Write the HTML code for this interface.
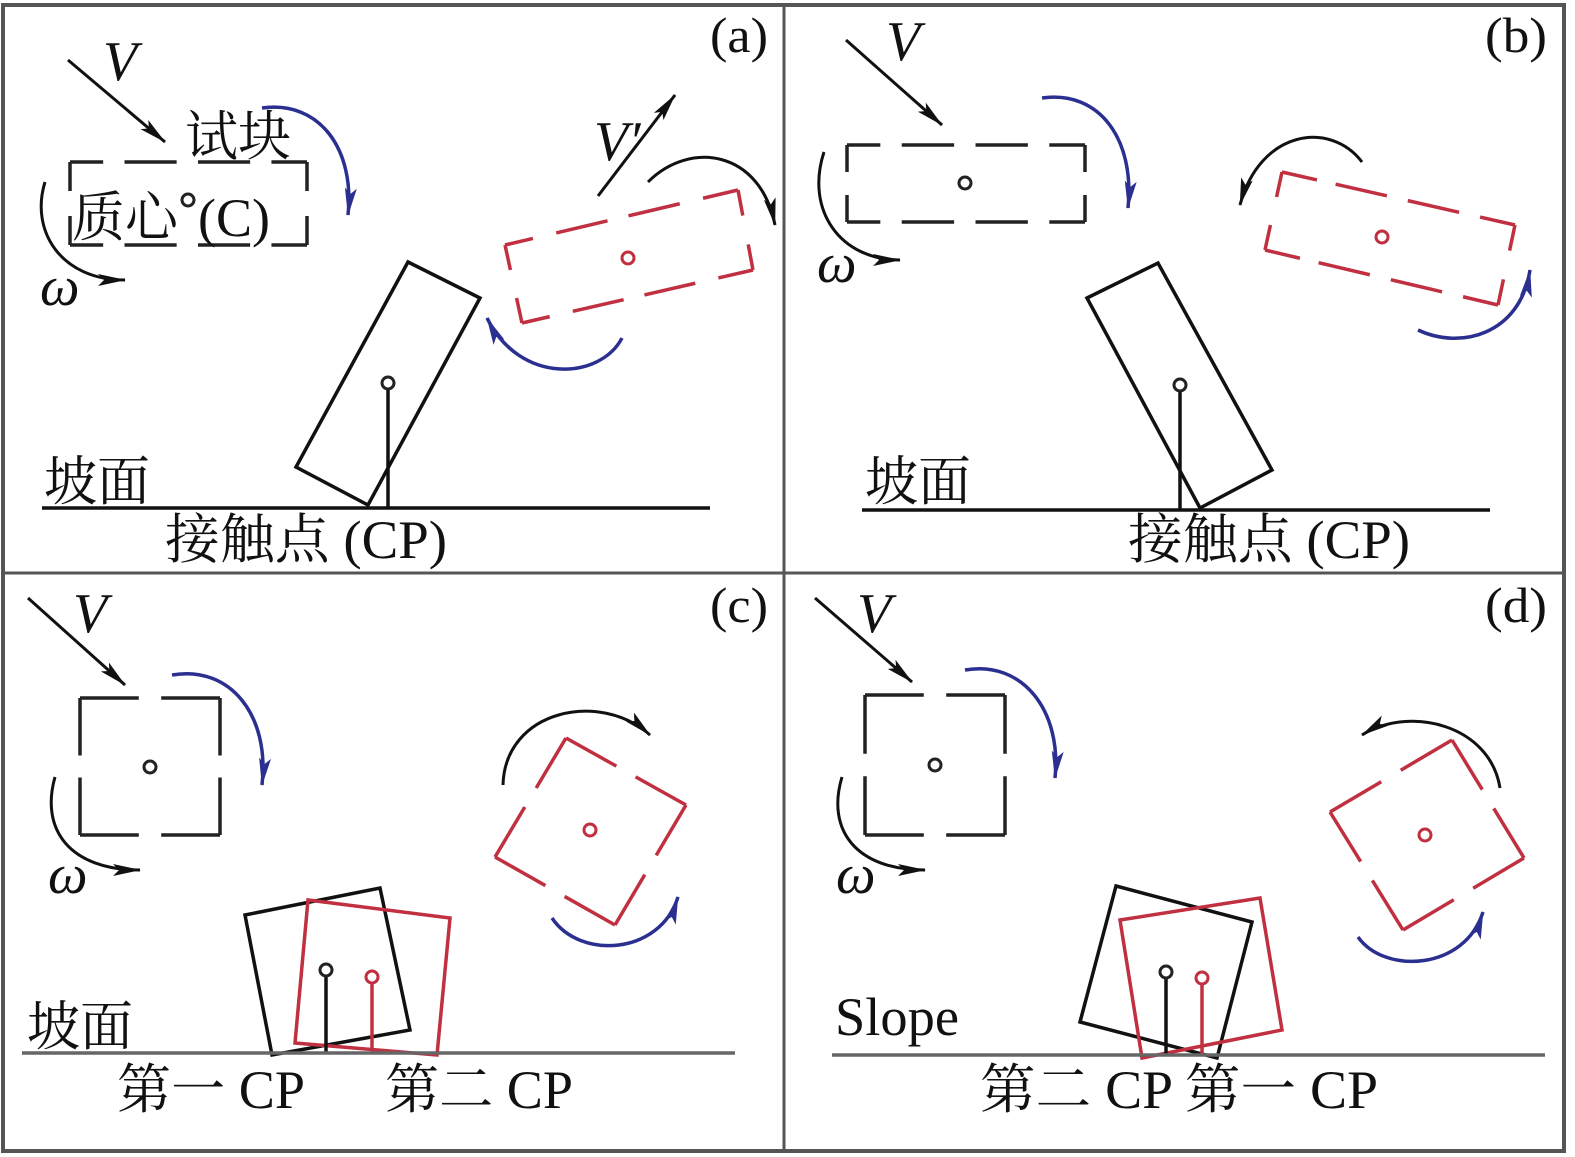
<!DOCTYPE html>
<html><head><meta charset="utf-8"><style>
html,body{margin:0;padding:0;background:#fff;}
svg{display:block;}
text{font-family:"Liberation Serif","Noto Serif CJK SC",serif;fill:#111;}
</style></head><body>
<svg width="1575" height="1157" viewBox="0 0 1575 1157" xmlns="http://www.w3.org/2000/svg">
<defs>
<marker id="abl" markerWidth="28" markerHeight="12" refX="27" refY="6" orient="auto" markerUnits="userSpaceOnUse" viewBox="0 0 28 12"><path d="M0,0 L28,6 L0,12 L6,6 z" fill="#111"/></marker>
<marker id="abu" markerWidth="28" markerHeight="12" refX="27" refY="6" orient="auto" markerUnits="userSpaceOnUse" viewBox="0 0 28 12"><path d="M0,0 L28,6 L0,12 L6,6 z" fill="#2b2f8f"/></marker>
</defs>
<rect x="0" y="0" width="1575" height="1157" fill="#fff"/>
<rect x="3" y="5" width="1561" height="1146" fill="none" stroke="#555" stroke-width="4"/>
<line x1="784" y1="5" x2="784" y2="1151" stroke="#555" stroke-width="3"/>
<line x1="3" y1="573" x2="1564" y2="573" stroke="#555" stroke-width="3"/>

<g stroke-linecap="butt" fill="none">
<!-- Panel a -->
<line x1="68" y1="60" x2="165" y2="142" stroke="#111" stroke-width="3" marker-end="url(#abl)"/>
<g stroke="#222" stroke-width="3.5">
<line x1="70" y1="162" x2="307" y2="162" pathLength="100" stroke-dasharray="14 9 22 9 22 9 15"/>
<line x1="70" y1="245" x2="307" y2="245" pathLength="100" stroke-dasharray="14 9 22 9 22 9 15"/>
<line x1="70" y1="162" x2="70" y2="245" pathLength="100" stroke-dasharray="35 30 35"/>
<line x1="307" y1="162" x2="307" y2="245" pathLength="100" stroke-dasharray="35 30 35"/>
</g>
<circle cx="188" cy="200" r="6" stroke="#222" stroke-width="3"/>
<path d="M45,182 C30,230 60,280 125,280" stroke="#111" stroke-width="3" marker-end="url(#abl)"/>
<path d="M262,108 C320,100 355,150 348,215" stroke="#2b2f8f" stroke-width="3.5" marker-end="url(#abu)"/>
<line x1="598" y1="196" x2="675" y2="95" stroke="#111" stroke-width="3" marker-end="url(#abl)"/>
<path d="M648,182 C690,140 760,150 775,225" stroke="#111" stroke-width="3" marker-end="url(#abl)"/>
<g stroke="#c03040" stroke-width="3.5">
<line x1="505" y1="245" x2="738" y2="190" pathLength="100" stroke-dasharray="12 10 22 9 22 10 15"/>
<line x1="522" y1="323" x2="753" y2="270" pathLength="100" stroke-dasharray="12 10 22 9 22 10 15"/>
<line x1="505" y1="245" x2="522" y2="323" pathLength="100" stroke-dasharray="32 36 32"/>
<line x1="738" y1="190" x2="753" y2="270" pathLength="100" stroke-dasharray="32 36 32"/>
</g>
<circle cx="628" cy="258" r="6" stroke="#c03040" stroke-width="3"/>
<path d="M622,338 C600,380 520,385 487,318" stroke="#2b2f8f" stroke-width="3.5" marker-end="url(#abu)"/>
<polygon points="408,262 480,298 368,505 296,467" stroke="#111" stroke-width="3.5"/>
<line x1="388" y1="389" x2="388" y2="508" stroke="#111" stroke-width="3.5"/>
<circle cx="388" cy="383" r="6" stroke="#222" stroke-width="3"/>
<line x1="42" y1="508" x2="710" y2="508" stroke="#111" stroke-width="3.5"/>

<!-- Panel b -->
<line x1="846" y1="40" x2="942" y2="125" stroke="#111" stroke-width="3" marker-end="url(#abl)"/>
<g stroke="#222" stroke-width="3.5">
<line x1="847" y1="145" x2="1085" y2="145" pathLength="100" stroke-dasharray="14 9 22 9 22 9 15"/>
<line x1="847" y1="222" x2="1085" y2="222" pathLength="100" stroke-dasharray="14 9 22 9 22 9 15"/>
<line x1="847" y1="145" x2="847" y2="222" pathLength="100" stroke-dasharray="35 30 35"/>
<line x1="1085" y1="145" x2="1085" y2="222" pathLength="100" stroke-dasharray="35 30 35"/>
</g>
<circle cx="965" cy="183" r="6" stroke="#222" stroke-width="3"/>
<path d="M824,152 C805,210 840,260 900,260" stroke="#111" stroke-width="3" marker-end="url(#abl)"/>
<path d="M1042,98 C1100,90 1135,140 1128,208" stroke="#2b2f8f" stroke-width="3.5" marker-end="url(#abu)"/>
<path d="M1362,162 C1330,120 1260,130 1240,205" stroke="#111" stroke-width="3" marker-end="url(#abl)"/>
<g stroke="#c03040" stroke-width="3.5">
<line x1="1282" y1="172" x2="1515" y2="225" pathLength="100" stroke-dasharray="15 8 22 9 22 9 15"/>
<line x1="1265" y1="250" x2="1498" y2="305" pathLength="100" stroke-dasharray="15 8 22 9 22 9 15"/>
<line x1="1282" y1="172" x2="1265" y2="250" pathLength="100" stroke-dasharray="32 36 32"/>
<line x1="1515" y1="225" x2="1498" y2="305" pathLength="100" stroke-dasharray="32 36 32"/>
</g>
<circle cx="1382" cy="237" r="6" stroke="#c03040" stroke-width="3"/>
<path d="M1418,330 C1460,350 1520,335 1530,270" stroke="#2b2f8f" stroke-width="3.5" marker-end="url(#abu)"/>
<polygon points="1087,298 1158,263 1272,470 1200,508" stroke="#111" stroke-width="3.5"/>
<line x1="1180" y1="391" x2="1180" y2="510" stroke="#111" stroke-width="3.5"/>
<circle cx="1180" cy="385" r="6" stroke="#222" stroke-width="3"/>
<line x1="862" y1="510" x2="1490" y2="510" stroke="#111" stroke-width="3.5"/>

<!-- Panel c -->
<line x1="28" y1="598" x2="125" y2="685" stroke="#111" stroke-width="3" marker-end="url(#abl)"/>
<g stroke="#222" stroke-width="3.5">
<line x1="80" y1="698" x2="220" y2="698" pathLength="100" stroke-dasharray="42 16 42"/>
<line x1="80" y1="835" x2="220" y2="835" pathLength="100" stroke-dasharray="42 16 42"/>
<line x1="80" y1="698" x2="80" y2="835" pathLength="100" stroke-dasharray="42 16 42"/>
<line x1="220" y1="698" x2="220" y2="835" pathLength="100" stroke-dasharray="42 16 42"/>
</g>
<circle cx="150" cy="767" r="6" stroke="#222" stroke-width="3"/>
<path d="M55,777 C40,830 70,870 140,870" stroke="#111" stroke-width="3" marker-end="url(#abl)"/>
<path d="M172,675 C230,665 270,715 262,785" stroke="#2b2f8f" stroke-width="3.5" marker-end="url(#abu)"/>
<path d="M503,785 C505,710 600,690 650,735" stroke="#111" stroke-width="3" marker-end="url(#abl)"/>
<g stroke="#c03040" stroke-width="3.5">
<line x1="566" y1="738" x2="686" y2="805" pathLength="100" stroke-dasharray="42 16 42"/>
<line x1="686" y1="805" x2="615" y2="925" pathLength="100" stroke-dasharray="42 16 42"/>
<line x1="615" y1="925" x2="495" y2="857" pathLength="100" stroke-dasharray="42 16 42"/>
<line x1="495" y1="857" x2="566" y2="738" pathLength="100" stroke-dasharray="42 16 42"/>
</g>
<circle cx="590" cy="830" r="6" stroke="#c03040" stroke-width="3"/>
<path d="M552,918 C580,960 660,955 678,897" stroke="#2b2f8f" stroke-width="3.5" marker-end="url(#abu)"/>
<polygon points="245,915 380,888 410,1030 272,1055" stroke="#111" stroke-width="3.5"/>
<polygon points="308,900 450,918 437,1055 295,1043" stroke="#c03040" stroke-width="3.5"/>
<line x1="326" y1="976" x2="326" y2="1053" stroke="#111" stroke-width="3.5"/>
<circle cx="326" cy="970" r="6" stroke="#222" stroke-width="3"/>
<line x1="372" y1="983" x2="372" y2="1053" stroke="#c03040" stroke-width="3.5"/>
<circle cx="372" cy="977" r="6" stroke="#c03040" stroke-width="3"/>
<line x1="22" y1="1053" x2="735" y2="1053" stroke="#666" stroke-width="3.5"/>

<!-- Panel d -->
<line x1="815" y1="598" x2="912" y2="682" stroke="#111" stroke-width="3" marker-end="url(#abl)"/>
<g stroke="#222" stroke-width="3.5">
<line x1="865" y1="695" x2="1005" y2="695" pathLength="100" stroke-dasharray="42 16 42"/>
<line x1="865" y1="835" x2="1005" y2="835" pathLength="100" stroke-dasharray="42 16 42"/>
<line x1="865" y1="695" x2="865" y2="835" pathLength="100" stroke-dasharray="42 16 42"/>
<line x1="1005" y1="695" x2="1005" y2="835" pathLength="100" stroke-dasharray="42 16 42"/>
</g>
<circle cx="935" cy="765" r="6" stroke="#222" stroke-width="3"/>
<path d="M842,777 C826,830 856,870 925,870" stroke="#111" stroke-width="3" marker-end="url(#abl)"/>
<path d="M965,670 C1022,660 1062,710 1055,778" stroke="#2b2f8f" stroke-width="3.5" marker-end="url(#abu)"/>
<path d="M1500,788 C1490,725 1410,705 1362,735" stroke="#111" stroke-width="3" marker-end="url(#abl)"/>
<g stroke="#c03040" stroke-width="3.5">
<line x1="1452" y1="740" x2="1524" y2="858" pathLength="100" stroke-dasharray="42 16 42"/>
<line x1="1524" y1="858" x2="1403" y2="930" pathLength="100" stroke-dasharray="42 16 42"/>
<line x1="1403" y1="930" x2="1330" y2="812" pathLength="100" stroke-dasharray="42 16 42"/>
<line x1="1330" y1="812" x2="1452" y2="740" pathLength="100" stroke-dasharray="42 16 42"/>
</g>
<circle cx="1425" cy="835" r="6" stroke="#c03040" stroke-width="3"/>
<path d="M1358,937 C1385,975 1465,970 1483,912" stroke="#2b2f8f" stroke-width="3.5" marker-end="url(#abu)"/>
<polygon points="1116,886 1252,922 1217,1058 1080,1022" stroke="#111" stroke-width="3.5"/>
<polygon points="1120,920 1260,898 1282,1030 1142,1058" stroke="#c03040" stroke-width="3.5"/>
<line x1="1166" y1="978" x2="1166" y2="1055" stroke="#111" stroke-width="3.5"/>
<circle cx="1166" cy="972" r="6" stroke="#222" stroke-width="3"/>
<line x1="1202" y1="984" x2="1202" y2="1055" stroke="#c03040" stroke-width="3.5"/>
<circle cx="1202" cy="978" r="6" stroke="#c03040" stroke-width="3"/>
<line x1="832" y1="1055" x2="1545" y2="1055" stroke="#666" stroke-width="3.5"/>
</g>

<!-- Text -->
<g font-size="50">
<text x="710" y="52" textLength="58" lengthAdjust="spacingAndGlyphs">(a)</text>
<text x="1485" y="52" textLength="62" lengthAdjust="spacingAndGlyphs">(b)</text>
<text x="710" y="622" textLength="58" lengthAdjust="spacingAndGlyphs">(c)</text>
<text x="1485" y="622" textLength="62" lengthAdjust="spacingAndGlyphs">(d)</text>
</g>
<g font-size="56" font-style="italic">
<text x="103" y="80">V</text>
<text x="594" y="160">V′</text>
<text x="40" y="305">ω</text>
<text x="886" y="60">V</text>
<text x="817" y="282">ω</text>
<text x="73" y="632">V</text>
<text x="48" y="893">ω</text>
<text x="857" y="632">V</text>
<text x="836" y="893">ω</text>
</g>
<g font-size="54">
<text x="185" y="155" textLength="106" lengthAdjust="spacingAndGlyphs">试块</text>
<text x="72" y="236" textLength="106" lengthAdjust="spacingAndGlyphs">质心</text>
<text x="198" y="236" textLength="72" lengthAdjust="spacingAndGlyphs">(C)</text>
<text x="44" y="500" textLength="106" lengthAdjust="spacingAndGlyphs">坡面</text>
<text x="165" y="558" textLength="282" lengthAdjust="spacingAndGlyphs">接触点 (CP)</text>
<text x="865" y="500" textLength="106" lengthAdjust="spacingAndGlyphs">坡面</text>
<text x="1128" y="558" textLength="282" lengthAdjust="spacingAndGlyphs">接触点 (CP)</text>
<text x="27" y="1045" textLength="106" lengthAdjust="spacingAndGlyphs">坡面</text>
<text x="117" y="1108" textLength="188" lengthAdjust="spacingAndGlyphs">第一 CP</text>
<text x="385" y="1108" textLength="188" lengthAdjust="spacingAndGlyphs">第二 CP</text>
<text x="835" y="1035" textLength="124" lengthAdjust="spacingAndGlyphs">Slope</text>
<text x="980" y="1108" textLength="398" lengthAdjust="spacingAndGlyphs">第二 CP 第一 CP</text>
</g>
</svg>
</body></html>
